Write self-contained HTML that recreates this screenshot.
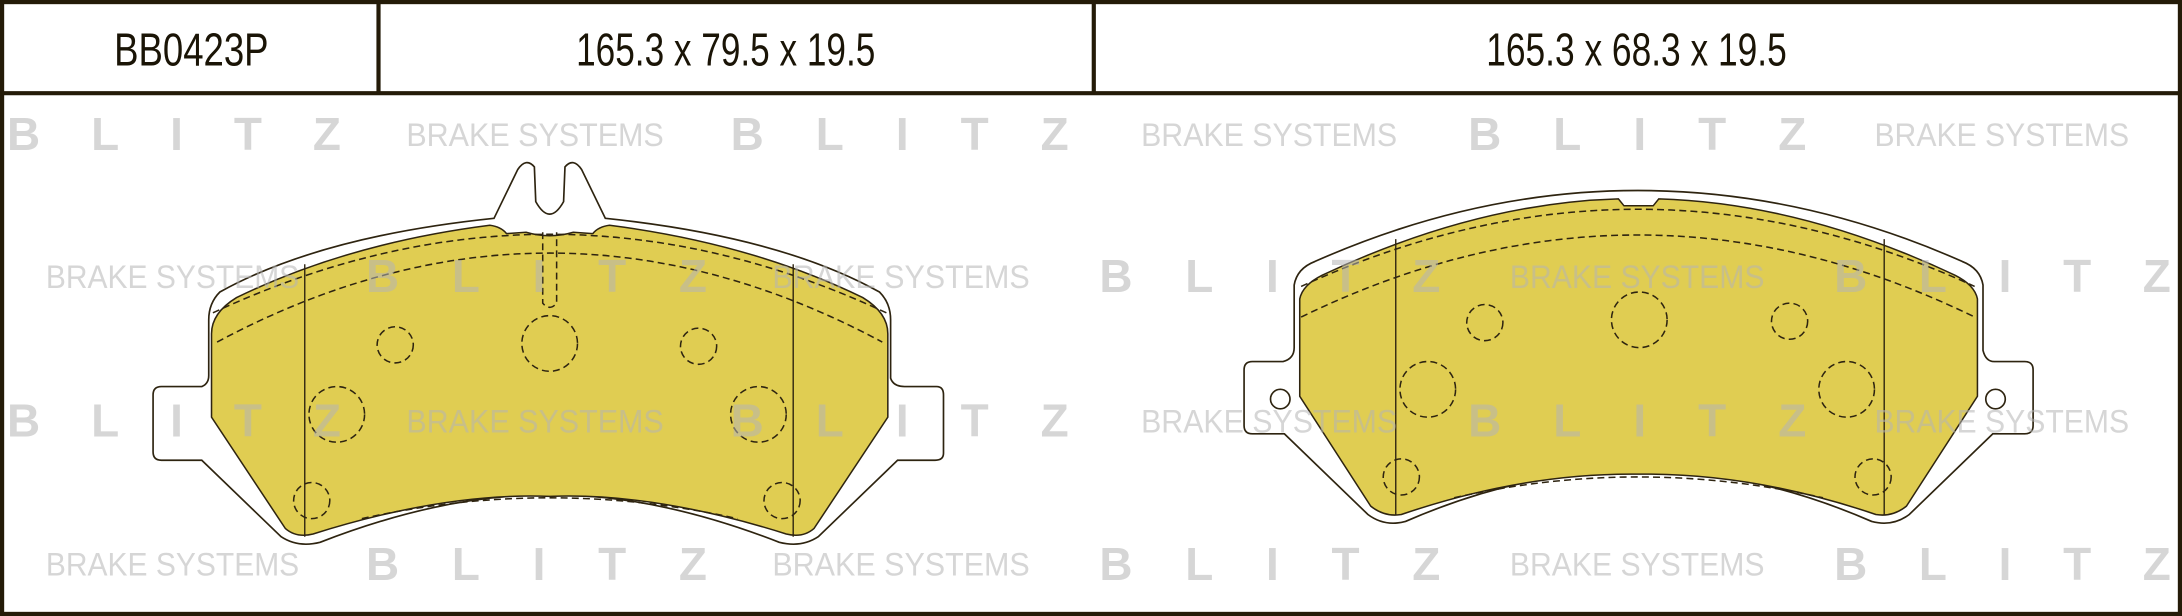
<!DOCTYPE html>
<html><head><meta charset="utf-8"><style>
html,body{margin:0;padding:0;background:#fff;}
svg{display:block;}
</style></head><body>
<svg width="2182" height="616" viewBox="0 0 1568 443" preserveAspectRatio="none" xmlns="http://www.w3.org/2000/svg">
<rect x="0" y="0" width="1568" height="443" fill="#fff"/>
<g stroke="#2e2410" stroke-width="1.2" fill="#fff">
<path d="M355,157 L372,122 Q378,113 384,120 L385,145 Q395,163 405,145 L406,120 Q412,113 418,122 L435,157 Q560,170 632,210 Q640,218 640,230 L640,272 Q642,278 650,278 L673,278 Q678,278 678,284 L678,326 Q678,331 672,331 L645,331 L588,386 Q576,394 560,390 Q470,355 395,356 Q320,355 230,390 Q214,394 202,386 L145,331 L116,331 Q110,331 110,325 L110,284 Q110,278 116,278 L145,278 Q150,276 150,270 L150,230 Q150,218 158,210 Q230,170 355,157 Z"/>
<path d="M930,205 Q932,193 945,188 Q1060,137 1177,137 Q1295,137 1410,188 Q1423,193 1425,205 L1425,252 Q1427,260 1433,260 L1455,260 Q1461,260 1461,266 L1461,306 Q1461,312 1455,312 L1432,312 L1372,370 Q1360,379 1345,375 Q1260,338 1177,338 Q1095,338 1010,375 Q995,379 983,370 L923,312 L900,312 Q894,312 894,306 L894,266 Q894,260 900,260 L922,260 Q930,258 930,250 Z"/>
<circle cx="920" cy="287" r="7"/><circle cx="1434" cy="287" r="7"/>
</g>
<g stroke="#2e2410" stroke-width="1.1" fill="#e0cd52">
<path d="M152,240 Q152,225 170,214 Q250,175 352,162 Q360,163 364,168 L378,167 Q395,172 412,167 L426,168 Q430,163 438,162 Q540,175 620,214 Q638,225 638,240 L638,300 L585,380 Q577,387 565,384 Q470,354 395,357 Q320,354 225,384 Q213,387 205,380 L152,300 Z"/>
<path d="M934,215 Q936,205 950,198 Q1060,146 1163,143 L1167,148 L1188,148 L1192,143 Q1295,146 1405,198 Q1419,205 1421,215 L1421,285 L1370,364 Q1360,372 1348,370 Q1260,340 1177,341 Q1095,340 1007,370 Q995,372 985,364 L934,285 Z"/>
</g>
<g stroke="#2e2410" stroke-width="1" fill="none">
<line x1="219" y1="190" x2="219" y2="386"/><line x1="570" y1="190" x2="570" y2="386"/>
<line x1="1003" y1="172" x2="1003" y2="370"/><line x1="1354" y1="172" x2="1354" y2="370"/>
</g>
<g stroke="#2e2410" stroke-width="1.1" fill="none" stroke-dasharray="5,3">
<path d="M153,225 Q395,112 637,225"/>
<path d="M156,246 Q395,118 634,246"/>
<path d="M935,206 Q1177,95 1419,206"/>
<path d="M935,228 Q1177,110 1419,228"/>
<path d="M260,373 Q395,343 530,373"/>
<path d="M1045,358 Q1177,328 1310,358"/>
<path d="M390,167 L390,218 Q395,224 400,218 L400,167"/>
<circle cx="284" cy="248" r="13"/><circle cx="395" cy="247" r="20"/><circle cx="502" cy="249" r="13"/>
<circle cx="242" cy="298" r="20"/><circle cx="545" cy="298" r="20"/>
<circle cx="224" cy="360" r="13"/><circle cx="562" cy="360" r="13"/>
<circle cx="1067" cy="232" r="13"/><circle cx="1178" cy="230" r="20"/><circle cx="1286" cy="231" r="13"/>
<circle cx="1026" cy="280" r="20"/><circle cx="1327" cy="280" r="20"/>
<circle cx="1007" cy="343" r="13"/><circle cx="1346" cy="343" r="13"/>
</g>
<g fill="#b4b4b4" fill-opacity="0.55" font-family="Liberation Sans, sans-serif">
<g font-weight="bold" font-size="33">
<text x="5" y="108" textLength="240" lengthAdjust="spacing">BLITZ</text>
<text x="525" y="108" textLength="243" lengthAdjust="spacing">BLITZ</text>
<text x="1055" y="108" textLength="243" lengthAdjust="spacing">BLITZ</text>
<text x="263" y="210" textLength="245" lengthAdjust="spacing">BLITZ</text>
<text x="790" y="210" textLength="245" lengthAdjust="spacing">BLITZ</text>
<text x="1318" y="210" textLength="242" lengthAdjust="spacing">BLITZ</text>
<text x="5" y="314" textLength="240" lengthAdjust="spacing">BLITZ</text>
<text x="525" y="314" textLength="243" lengthAdjust="spacing">BLITZ</text>
<text x="1055" y="314" textLength="243" lengthAdjust="spacing">BLITZ</text>
<text x="263" y="417" textLength="245" lengthAdjust="spacing">BLITZ</text>
<text x="790" y="417" textLength="245" lengthAdjust="spacing">BLITZ</text>
<text x="1318" y="417" textLength="242" lengthAdjust="spacing">BLITZ</text>
</g>
<g font-size="23">
<text x="292" y="105" textLength="185" lengthAdjust="spacingAndGlyphs">BRAKE SYSTEMS</text>
<text x="820" y="105" textLength="184" lengthAdjust="spacingAndGlyphs">BRAKE SYSTEMS</text>
<text x="1347" y="105" textLength="183" lengthAdjust="spacingAndGlyphs">BRAKE SYSTEMS</text>
<text x="33" y="207" textLength="182" lengthAdjust="spacingAndGlyphs">BRAKE SYSTEMS</text>
<text x="555" y="207" textLength="185" lengthAdjust="spacingAndGlyphs">BRAKE SYSTEMS</text>
<text x="1085" y="207" textLength="183" lengthAdjust="spacingAndGlyphs">BRAKE SYSTEMS</text>
<text x="292" y="311" textLength="185" lengthAdjust="spacingAndGlyphs">BRAKE SYSTEMS</text>
<text x="820" y="311" textLength="184" lengthAdjust="spacingAndGlyphs">BRAKE SYSTEMS</text>
<text x="1347" y="311" textLength="183" lengthAdjust="spacingAndGlyphs">BRAKE SYSTEMS</text>
<text x="33" y="414" textLength="182" lengthAdjust="spacingAndGlyphs">BRAKE SYSTEMS</text>
<text x="555" y="414" textLength="185" lengthAdjust="spacingAndGlyphs">BRAKE SYSTEMS</text>
<text x="1085" y="414" textLength="183" lengthAdjust="spacingAndGlyphs">BRAKE SYSTEMS</text>
</g>
</g>
<g fill="none" stroke="#241b08" stroke-width="3">
<rect x="1.5" y="1.5" width="1565" height="440"/>
<line x1="0" y1="67" x2="1568" y2="67"/>
<line x1="272" y1="0" x2="272" y2="67"/>
<line x1="786" y1="0" x2="786" y2="67"/>
</g>
<g fill="#1a1406" font-family="Liberation Sans, sans-serif" font-size="33">
<text x="82" y="47" textLength="111" lengthAdjust="spacingAndGlyphs">BB0423P</text>
<text x="414" y="47" textLength="215" lengthAdjust="spacingAndGlyphs">165.3 x 79.5 x 19.5</text>
<text x="1068" y="47" textLength="216" lengthAdjust="spacingAndGlyphs">165.3 x 68.3 x 19.5</text>
</g>
</svg>
</body></html>
